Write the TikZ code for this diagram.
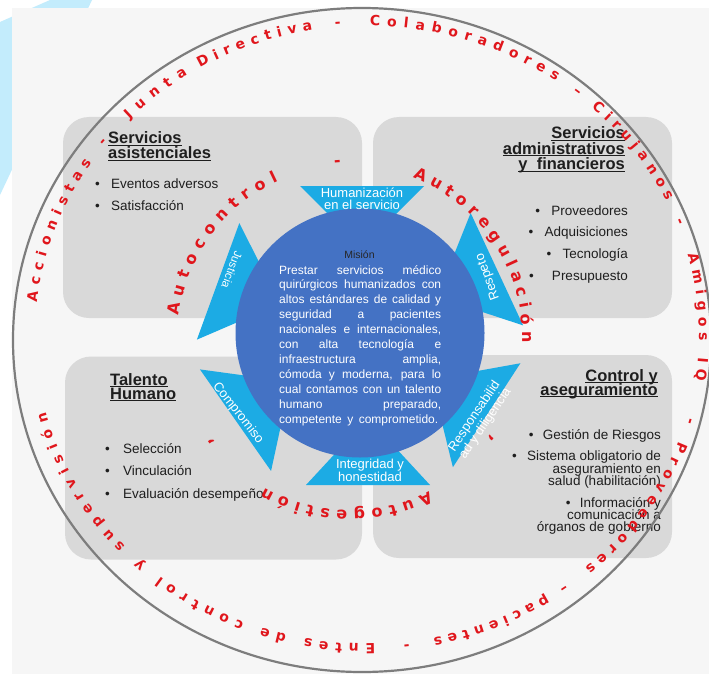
\documentclass[tikz,border=0pt]{standalone}
\usepackage{fontspec}
\setmainfont{Liberation Sans}
\newfontfamily\ringfont{DejaVu Sans}
\usetikzlibrary{decorations.text,calc}

\definecolor{bgcol}{RGB}{246,246,246}
\definecolor{panelcol}{RGB}{217,217,217}
\definecolor{cyanbg}{RGB}{195,236,252}
\definecolor{arrowcol}{RGB}{28,171,228}
\definecolor{circcol}{RGB}{68,114,196}
\definecolor{ringred}{RGB}{224,22,28}
\definecolor{ringgray}{RGB}{125,125,125}
\definecolor{txtcol}{RGB}{30,30,30}

\newcommand\ulw[1]{\setbox0=\hbox{#1}\rlap{\copy0}\rule[-2.3pt]{\wd0}{1.2pt}}
\newcommand\rfo{\ringfont\bfseries\fontsize{14}{14}\selectfont}
\newcommand\rfi{\ringfont\bfseries\fontsize{16}{16}\selectfont}
\newcommand\outword[3]{\path[decorate,decoration={text along path,text={|\rfo|#3},text align={fit to path},raise=-4pt,text color=ringred}] plot[domain=#1:#2,samples=80,variable=\t] ({367+336*cos(\t)},{335+313*sin(\t)});}
\newcommand\outmark[3]{\path[decorate,decoration={text along path,text={|\rfo|#3},text align=center,raise=-4pt,text color=ringred}] plot[domain=#1:#2,samples=10,variable=\t] ({367+336*cos(\t)},{335+313*sin(\t)});}
\newcommand\inword[3]{\path[decorate,decoration={text along path,text={|\rfi|#3},text align={fit to path},raise=-4.5pt,text color=ringred}] plot[domain=#1:#2,samples=80,variable=\t] ({350+177*cos(\t)},{338+177*sin(\t)});}
\newcommand\inmark[3]{\path[decorate,decoration={text along path,text={|\rfi|#3},text align=center,raise=-4.5pt,text color=ringred}] plot[domain=#1:#2,samples=10,variable=\t] ({350+177*cos(\t)},{338+177*sin(\t)});}
\newcommand\trapz[4]{\fill[arrowcol] ($(#1,#2)+(#3:#4)+({#3+90}:62)$) -- ($(#1,#2)+(#3:#4)+({#3-90}:62)$) -- ($(#1,#2)+(#3:85)$) -- cycle;}

\begin{document}
\begin{tikzpicture}[x=1pt,y=-1pt,
  panel/.style={fill=panelcol,rounded corners=26pt,inner sep=0pt,draw=none},
  head/.style={font=\fontsize{16.5}{15}\selectfont\bfseries,text=txtcol,inner sep=0pt},
  item/.style={font=\fontsize{13.5}{12.5}\selectfont,text=txtcol,inner sep=0pt},
  mis/.style={font=\fontsize{12}{14.9}\selectfont,text=white,inner sep=0pt,anchor=base west},
  lab/.style={font=\fontsize{13}{11.5}\selectfont,text=white,inner sep=0pt,align=center}]
\useasboundingbox (0,0) rectangle (709,674);
\clip (0,0) rectangle (709,674);
\fill[white] (0,0) rectangle (709,674);
\fill[cyanbg] (50,0) -- (92,0) -- (0,195) -- (0,22) -- cycle;
\fill[bgcol] (12,8) rectangle (709,674);

% panels
\node[panel,minimum width=299pt,minimum height=201pt] (pTL) at (212.5,217.5) {};
\node[panel,minimum width=299pt,minimum height=201pt] (pTR) at (522.5,217.5) {};
\node[panel,minimum width=297pt,minimum height=203pt] (pBL) at (213.5,458) {};
\node[panel,minimum width=299pt,minimum height=203pt] (pBR) at (522.5,456.5) {};

% TL
\node[head,anchor=base west] (h1) at (108,143.5) {\ulw{Servicios}};
\node[head,anchor=base west] (h2) at (108,158.5) {\ulw{asistenciales}};
\node[item,anchor=base west] (i1) at (95,188) {\makebox[16pt][l]{•}Eventos adversos};
\node[item,anchor=base west] (i2) at (95,210) {\makebox[16pt][l]{•}Satisfacción};
% TR
\node[head,anchor=base east] (h3) at (625,138.5) {\ulw{Servicios}};
\node[head,anchor=base east] (h4) at (625,154) {\ulw{administrativos}};
\node[head,anchor=base east] (h5) at (625,169.5) {\ulw{y\ \ financieros}};
\node[item,anchor=base east] (i3) at (628,215) {\makebox[16pt][l]{•}Proveedores};
\node[item,anchor=base east] (i4) at (628,236.5) {\makebox[16pt][l]{•}Adquisiciones};
\node[item,anchor=base east] (i5) at (628,258) {\makebox[16pt][l]{•}Tecnología};
\node[item,anchor=base east] (i6) at (628,280) {\makebox[23pt][l]{•}Presupuesto};
% BL
\node[head,anchor=base west] (h6) at (110,385) {\ulw{Talento}};
\node[head,anchor=base west] (h7) at (110,399) {\ulw{Humano}};
\node[item,anchor=base west] (i7) at (105,453) {\makebox[18pt][l]{•}Selección};
\node[item,anchor=base west] (i8) at (105,475.5) {\makebox[18pt][l]{•}Vinculación};
\node[item,anchor=base west] (i9) at (105,498) {\makebox[18pt][l]{•}Evaluación desempeño};
% BR
\node[head,anchor=base east] (h8) at (658,381) {\ulw{Control y}};
\node[head,anchor=base east] (h9) at (658,395) {\ulw{aseguramiento}};
\node[item,anchor=base east] (i10) at (661,439) {\makebox[14pt][l]{•}Gestión de Riesgos};
\node[item,anchor=base east] (i11) at (661,460.5) {\makebox[15pt][l]{•}Sistema obligatorio de};
\node[item,anchor=base east] (i12) at (661,473) {aseguramiento en};
\node[item,anchor=base east] (i13) at (661,485) {salud (habilitación)};
\node[item,anchor=base east] (i14) at (661,507) {\makebox[14pt][l]{•}Información y};
\node[item,anchor=base east] (i15) at (661,519) {comunicación a};
\node[item,anchor=base east] (i16) at (661,531) {órganos de gobierno};

% value arrows
\coordinate (O) at (360,333);
\trapz{362}{333}{270}{147}
\trapz{360}{333}{335}{151}
\trapz{360}{333}{33}{151}
\trapz{368}{333}{90}{152}
\trapz{360}{333}{145}{152}
\trapz{360}{333}{200}{151}

% mission circle
\node[circle,fill=circcol,minimum size=249pt,inner sep=0pt] (mc) at (O) {};
\node[font=\fontsize{10.5}{12}\selectfont,text=black!85,inner sep=0pt,anchor=base] (mt) at (359.5,258.5) {Misión};
\node[mis] (m1) at (279,274) {\makebox[162pt][s]{Prestar servicios médico}};
\node[mis] (m2) at (279,288.9) {\makebox[162pt][s]{quirúrgicos humanizados con}};
\node[mis] (m3) at (279,303.8) {\makebox[162pt][s]{altos estándares de calidad y}};
\node[mis] (m4) at (279,318.7) {\makebox[162pt][s]{seguridad a pacientes}};
\node[mis] (m5) at (279,333.6) {\makebox[162pt][s]{nacionales e internacionales,}};
\node[mis] (m6) at (279,348.5) {\makebox[162pt][s]{con alta tecnología e}};
\node[mis] (m7) at (279,363.4) {\makebox[162pt][s]{infraestructura amplia,}};
\node[mis] (m8) at (279,378.3) {\makebox[162pt][s]{cómoda y moderna, para lo}};
\node[mis] (m9) at (279,393.2) {\makebox[162pt][s]{cual contamos con un talento}};
\node[mis] (m10) at (279,408.1) {\makebox[162pt][s]{humano preparado,}};
\node[mis] (m11) at (279,423) {\makebox[159pt][s]{competente y comprometido.}};

% labels
\node[lab] (l1) at (362,199) {Humanización\\en el servicio};
\node[lab] (l2) at (370,470.5) {Integridad y\\honestidad};
\node[lab,rotate=110] (l3) at (488,277) {Respeto};
\node[lab,rotate=-111,font=\fontsize{11.5}{11}\selectfont] (l4) at (232,270) {Justicia};
\node[lab,rotate=-52] (l5) at (238,413) {Compromiso};
\node[lab,rotate=56,font=\fontsize{13}{11}\selectfont] (l6) at (480,420) {Responsabilid\\ad y diligencia};

% outer ring
\draw[ringgray,line width=2.2pt] (362,340) ellipse[x radius=349,y radius=332];

\outword{186}{214}{Accionistas}
\outmark{216.1}{220.1}{-}
\outword{224.3}{237.3}{Junta}
\outword{239.8}{260.6}{Directiva}
\outmark{263}{267}{-}
\outword{270.5}{304.7}{Colaboradores}
\outmark{306.8}{310.8}{–}
\outword{312.5}{334.3}{Cirujanos}
\outmark{336.7}{340.7}{-}
\outword{344.9}{368.5}{Amigos IQ}
\outmark{374}{378}{-}
\outword{380.2}{409}{Proveedores}
\outmark{52.1}{56.1}{–}
\outword{57.4}{78.5}{pacientes}
\outmark{81.2}{85.2}{-}
\outword{88.6}{165.5}{Entes de control y supervisión}

% inner ring
\inword{187.4}{245.4}{Autocontrol}
\inmark{263.9}{267.9}{-}
\inword{291.4}{361.5}{Autoregulación}
\inmark{33.5}{37.5}{,}
\inword{62.8}{119.7}{Autogestión}
\inmark{141.4}{145.4}{,}
\end{tikzpicture}
\end{document}
